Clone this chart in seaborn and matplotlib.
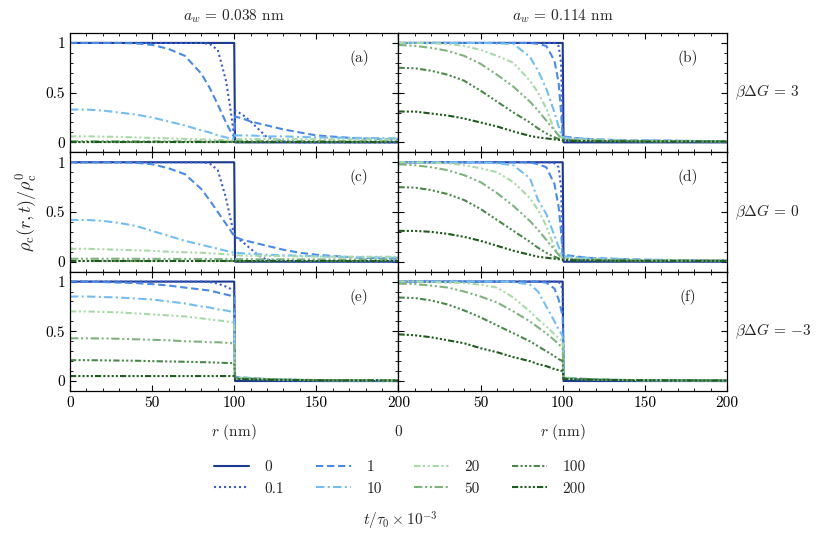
"""
Radial concentration profiles rho_c(r,t)/rho_c^0 for two wall widths a_w
and three barrier heights beta*DeltaG, at several reduced times.
"""

import numpy as np
import pandas as pd
import matplotlib
matplotlib.use('Agg')
import matplotlib.pyplot as plt
from matplotlib.lines import Line2D
from matplotlib.ticker import MultipleLocator
import seaborn as sns

# radial grid (nm)
r_nm = [0, 10, 20, 30, 40, 50, 60, 70, 80, 85, 90, 95, 97.5, 99, 100,
        100.5, 105, 110, 115, 120, 130, 140, 150, 175, 200]

# times t/tau0 x 1e-3
times = ['0', '0.1', '1', '10', '20', '50', '100', '200']

# t = 0 : step profile, same in every panel
rho_t0 = [1, 1, 1, 1, 1, 1, 1, 1, 1, 1, 1, 1, 1, 1, 1,
          0, 0, 0, 0, 0, 0, 0, 0, 0, 0]

# (a) a_w = 0.038 nm, beta dG = 3   -> t = 0.1 ... 200
panel_a = [
    [1, 1, 1, 1, 1, 1, 1, 1, 1, 0.99, 0.93, 0.62, 0.36, 0.18, 0.05,
     0.32, 0.28, 0.21, 0.13, 0.05, 0.01, 0, 0, 0, 0],
    [1, 1, 1, 1, 0.995, 0.98, 0.94, 0.87, 0.69, 0.55, 0.38, 0.2, 0.12, 0.08, 0.05,
     0.26, 0.24, 0.21, 0.19, 0.17, 0.13, 0.1, 0.07, 0.04, 0.03],
    [0.33, 0.33, 0.32, 0.3, 0.28, 0.25, 0.21, 0.17, 0.12, 0.1, 0.07, 0.05, 0.04, 0.035, 0.03,
     0.07, 0.07, 0.07, 0.065, 0.06, 0.06, 0.055, 0.05, 0.045, 0.04],
    [0.06, 0.06, 0.058, 0.055, 0.05, 0.045, 0.04, 0.035, 0.03, 0.028, 0.025, 0.022, 0.02, 0.02, 0.02,
     0.035, 0.035, 0.035, 0.034, 0.034, 0.033, 0.032, 0.031, 0.03, 0.03],
    [0.012, 0.012, 0.012, 0.012, 0.011, 0.011, 0.011, 0.01, 0.01, 0.01, 0.01, 0.01, 0.01, 0.01, 0.01,
     0.014, 0.014, 0.014, 0.014, 0.014, 0.013, 0.013, 0.013, 0.012, 0.012],
    [0.003, 0.003, 0.003, 0.003, 0.003, 0.003, 0.003, 0.003, 0.003, 0.003, 0.003, 0.003, 0.003, 0.003, 0.003,
     0.004, 0.004, 0.004, 0.004, 0.004, 0.004, 0.004, 0.004, 0.004, 0.004],
    [0, 0, 0, 0, 0, 0, 0, 0, 0, 0, 0, 0, 0, 0, 0,
     0, 0, 0, 0, 0, 0, 0, 0, 0, 0],
]

# (b) a_w = 0.114 nm, beta dG = 3
panel_b = [
    [1, 1, 1, 1, 1, 1, 1, 1, 1, 1, 1, 1, 0.97, 0.8, 0.05,
     0.03, 0.02, 0.015, 0.01, 0.01, 0.01, 0.005, 0.005, 0.005, 0.005],
    [1, 1, 1, 1, 1, 1, 1, 1, 1, 0.99, 0.97, 0.82, 0.6, 0.3, 0.06,
     0.06, 0.05, 0.04, 0.035, 0.03, 0.025, 0.02, 0.02, 0.015, 0.01],
    [1, 1, 1, 1, 1, 1, 0.995, 0.99, 0.86, 0.72, 0.54, 0.3, 0.16, 0.09, 0.06,
     0.05, 0.045, 0.04, 0.035, 0.03, 0.025, 0.02, 0.02, 0.015, 0.01],
    [1, 1, 0.995, 0.99, 0.97, 0.93, 0.87, 0.8, 0.62, 0.5, 0.34, 0.12, 0.07, 0.05, 0.04,
     0.04, 0.035, 0.03, 0.03, 0.025, 0.02, 0.02, 0.015, 0.015, 0.01],
    [0.98, 0.97, 0.95, 0.92, 0.87, 0.79, 0.68, 0.56, 0.41, 0.32, 0.22, 0.12, 0.07, 0.045, 0.035,
     0.03, 0.025, 0.02, 0.02, 0.02, 0.015, 0.015, 0.01, 0.01, 0.01],
    [0.75, 0.745, 0.72, 0.68, 0.62, 0.52, 0.41, 0.3, 0.2, 0.14, 0.09, 0.05, 0.035, 0.03, 0.025,
     0.02, 0.02, 0.015, 0.015, 0.015, 0.01, 0.01, 0.01, 0.01, 0.01],
    [0.31, 0.31, 0.29, 0.27, 0.24, 0.2, 0.16, 0.11, 0.065, 0.05, 0.04, 0.03, 0.025, 0.022, 0.02,
     0.015, 0.015, 0.012, 0.012, 0.01, 0.01, 0.01, 0.008, 0.008, 0.008],
]

# (c) a_w = 0.038 nm, beta dG = 0
panel_c = [
    [1, 1, 1, 1, 1, 1, 1, 1, 1, 0.99, 0.92, 0.64, 0.45, 0.34, 0.27,
     0.25, 0.2, 0.13, 0.06, 0.02, 0, 0, 0, 0, 0],
    [1, 1, 1, 1, 0.995, 0.98, 0.94, 0.88, 0.73, 0.62, 0.5, 0.38, 0.32, 0.28, 0.26,
     0.25, 0.22, 0.2, 0.18, 0.16, 0.12, 0.09, 0.07, 0.04, 0.03],
    [0.42, 0.42, 0.41, 0.39, 0.36, 0.31, 0.26, 0.21, 0.17, 0.15, 0.13, 0.11, 0.1, 0.095, 0.09,
     0.09, 0.085, 0.08, 0.075, 0.07, 0.065, 0.06, 0.055, 0.045, 0.04],
    [0.13, 0.13, 0.125, 0.12, 0.115, 0.11, 0.1, 0.095, 0.09, 0.085, 0.08, 0.075, 0.072, 0.07, 0.07,
     0.065, 0.062, 0.06, 0.06, 0.058, 0.056, 0.054, 0.052, 0.05, 0.05],
    [0.03, 0.03, 0.03, 0.03, 0.029, 0.029, 0.028, 0.028, 0.027, 0.027, 0.026, 0.026, 0.026, 0.025, 0.025,
     0.025, 0.025, 0.025, 0.024, 0.024, 0.024, 0.023, 0.023, 0.022, 0.022],
    [0.01, 0.01, 0.01, 0.01, 0.01, 0.01, 0.01, 0.01, 0.01, 0.01, 0.01, 0.01, 0.01, 0.01, 0.01,
     0.01, 0.01, 0.01, 0.01, 0.01, 0.01, 0.01, 0.01, 0.01, 0.01],
    [0.003, 0.003, 0.003, 0.003, 0.003, 0.003, 0.003, 0.003, 0.003, 0.003, 0.003, 0.003, 0.003, 0.003, 0.003,
     0.003, 0.003, 0.003, 0.003, 0.003, 0.003, 0.003, 0.003, 0.003, 0.003],
]

# (d) a_w = 0.114 nm, beta dG = 0
panel_d = [
    [1, 1, 1, 1, 1, 1, 1, 1, 1, 1, 1, 0.99, 0.95, 0.75, 0.06,
     0.04, 0.03, 0.02, 0.015, 0.01, 0.01, 0.008, 0.006, 0.005, 0.005],
    [1, 1, 1, 1, 1, 1, 1, 1, 1, 0.98, 0.95, 0.78, 0.55, 0.3, 0.07,
     0.07, 0.06, 0.05, 0.04, 0.035, 0.03, 0.025, 0.02, 0.015, 0.01],
    [1, 1, 1, 1, 1, 1, 0.99, 0.97, 0.84, 0.62, 0.48, 0.26, 0.15, 0.09, 0.06,
     0.055, 0.05, 0.045, 0.04, 0.035, 0.03, 0.025, 0.02, 0.015, 0.01],
    [1, 1, 0.995, 0.99, 0.97, 0.94, 0.9, 0.8, 0.64, 0.52, 0.36, 0.14, 0.08, 0.05, 0.04,
     0.04, 0.035, 0.03, 0.03, 0.025, 0.02, 0.02, 0.015, 0.015, 0.01],
    [0.98, 0.97, 0.95, 0.92, 0.87, 0.8, 0.69, 0.56, 0.41, 0.32, 0.22, 0.12, 0.07, 0.045, 0.035,
     0.03, 0.025, 0.02, 0.02, 0.02, 0.015, 0.015, 0.01, 0.01, 0.01],
    [0.75, 0.745, 0.72, 0.68, 0.62, 0.53, 0.42, 0.31, 0.2, 0.14, 0.09, 0.05, 0.035, 0.03, 0.025,
     0.02, 0.02, 0.015, 0.015, 0.015, 0.01, 0.01, 0.01, 0.01, 0.01],
    [0.31, 0.31, 0.3, 0.28, 0.25, 0.21, 0.16, 0.11, 0.07, 0.05, 0.04, 0.03, 0.025, 0.022, 0.02,
     0.015, 0.015, 0.012, 0.012, 0.01, 0.01, 0.01, 0.008, 0.008, 0.008],
]

# (e) a_w = 0.038 nm, beta dG = -3
panel_e = [
    [1, 1, 1, 1, 1, 1, 1, 1, 1, 0.995, 0.98, 0.95, 0.93, 0.91, 0.9,
     0.03, 0.02, 0.015, 0.01, 0.01, 0.005, 0, 0, 0, 0],
    [1, 1, 0.995, 0.99, 0.985, 0.975, 0.96, 0.94, 0.92, 0.91, 0.89, 0.87, 0.86, 0.855, 0.85,
     0.04, 0.035, 0.03, 0.025, 0.02, 0.015, 0.01, 0.01, 0.005, 0.005],
    [0.85, 0.85, 0.845, 0.84, 0.83, 0.82, 0.8, 0.78, 0.75, 0.74, 0.72, 0.71, 0.7, 0.695, 0.69,
     0.04, 0.035, 0.03, 0.025, 0.02, 0.015, 0.012, 0.01, 0.008, 0.006],
    [0.7, 0.7, 0.695, 0.69, 0.68, 0.67, 0.66, 0.65, 0.63, 0.62, 0.61, 0.6, 0.595, 0.59, 0.59,
     0.035, 0.03, 0.028, 0.025, 0.02, 0.015, 0.012, 0.01, 0.008, 0.006],
    [0.43, 0.43, 0.428, 0.425, 0.42, 0.415, 0.41, 0.4, 0.395, 0.39, 0.39, 0.385, 0.382, 0.38, 0.38,
     0.03, 0.028, 0.025, 0.022, 0.02, 0.015, 0.012, 0.01, 0.008, 0.006],
    [0.21, 0.21, 0.208, 0.206, 0.204, 0.2, 0.197, 0.194, 0.19, 0.188, 0.185, 0.182, 0.181, 0.18, 0.18,
     0.025, 0.022, 0.02, 0.018, 0.016, 0.013, 0.01, 0.009, 0.007, 0.006],
    [0.05, 0.05, 0.05, 0.05, 0.05, 0.05, 0.05, 0.05, 0.05, 0.05, 0.05, 0.05, 0.05, 0.05, 0.05,
     0.02, 0.018, 0.016, 0.014, 0.012, 0.01, 0.008, 0.007, 0.006, 0.005],
]

# (f) a_w = 0.114 nm, beta dG = -3
panel_f = [
    [1, 1, 1, 1, 1, 1, 1, 1, 1, 1, 1, 1, 0.995, 0.97, 0.9,
     0.03, 0.02, 0.015, 0.01, 0.01, 0.008, 0.006, 0.005, 0.005, 0.005],
    [1, 1, 1, 1, 1, 1, 1, 1, 1, 1, 0.99, 0.93, 0.82, 0.72, 0.65,
     0.035, 0.03, 0.025, 0.02, 0.015, 0.012, 0.01, 0.008, 0.006, 0.005],
    [1, 1, 1, 1, 1, 1, 1, 0.995, 0.97, 0.9, 0.75, 0.6, 0.52, 0.48, 0.45,
     0.035, 0.03, 0.025, 0.02, 0.015, 0.012, 0.01, 0.008, 0.006, 0.005],
    [1, 1, 0.995, 0.99, 0.985, 0.97, 0.94, 0.84, 0.7, 0.62, 0.55, 0.47, 0.43, 0.41, 0.4,
     0.035, 0.03, 0.025, 0.02, 0.015, 0.012, 0.01, 0.008, 0.006, 0.005],
    [0.98, 0.975, 0.96, 0.94, 0.9, 0.85, 0.79, 0.7, 0.6, 0.54, 0.48, 0.41, 0.37, 0.35, 0.33,
     0.03, 0.025, 0.02, 0.018, 0.015, 0.012, 0.01, 0.008, 0.006, 0.005],
    [0.84, 0.835, 0.81, 0.77, 0.71, 0.64, 0.56, 0.48, 0.4, 0.35, 0.3, 0.25, 0.22, 0.21, 0.2,
     0.025, 0.022, 0.02, 0.018, 0.015, 0.012, 0.01, 0.008, 0.006, 0.005],
    [0.47, 0.46, 0.44, 0.41, 0.38, 0.33, 0.29, 0.24, 0.2, 0.17, 0.15, 0.12, 0.11, 0.105, 0.1,
     0.02, 0.018, 0.016, 0.014, 0.012, 0.01, 0.008, 0.007, 0.006, 0.005],
]

panel_tags = ['(a)', '(b)', '(c)', '(d)', '(e)', '(f)']
col_titles = [r'$a_w$ = 0.038 nm', r'$a_w$ = 0.114 nm']
row_labels = [r'$\beta\Delta G$ = 3', r'$\beta\Delta G$ = 0',
              r'$\beta\Delta G$ = $-3$']
xtick_vals = [0, 50, 100, 150, 200]
ytick_vals = [0, 0.5, 1]
ytick_text = ['0', '0.5', '1']

line_colors = ['#1b3a8f', '#3a5ccc', '#4b8ae0', '#74bdf0',
               '#a9d9a9', '#7fb27f', '#4b874b', '#1f5a1f']
line_dashes = ['', (1, 1.4), (3.5, 1.8), (4, 1.6, 1, 1.6),
               (3, 1.3, 1, 1.3, 1, 1.3),
               (4, 1.3, 1, 1.3, 1, 1.3),
               (3, 1.1, 1, 1.1, 1, 1.1, 1, 1.1),
               (3, 1, 1, 1, 1, 1, 1, 1, 1, 1)]

FS = 11

sns.set_style('ticks')
plt.rcParams.update({
    'font.family': 'serif',
    'font.serif': ['cmr10'],
    'mathtext.fontset': 'cm',
    'axes.formatter.use_mathtext': True,
    'axes.unicode_minus': False,
    'font.size': FS,
    'xtick.direction': 'in',
    'ytick.direction': 'in',
    'xtick.top': True,
    'ytick.right': True,
    'xtick.minor.visible': True,
    'ytick.minor.visible': True,
    'xtick.major.size': 4,
    'ytick.major.size': 4,
    'xtick.minor.size': 2,
    'ytick.minor.size': 2,
    'axes.edgecolor': 'black',
    'axes.linewidth': 0.9,
})


def panel_frame(series):
    """Long-form table of one panel."""
    rows = []
    all_series = [rho_t0] + series
    for t, vals in zip(times, all_series):
        for r, v in zip(r_nm, vals):
            rows.append({'r': r, 'rho': v, 't': t})
    return pd.DataFrame(rows)


panels = [panel_a, panel_b, panel_c, panel_d, panel_e, panel_f]
palette = dict(zip(times, line_colors))
dashes = dict(zip(times, line_dashes))

fig, axes = plt.subplots(3, 2, figsize=(8.31, 5.39), dpi=100)
fig.subplots_adjust(left=0.0842, right=0.8748, top=0.9388, bottom=0.2746,
                    hspace=0, wspace=0)

for k, ax in enumerate(axes.flat):
    i, j = divmod(k, 2)
    df = panel_frame(panels[k])
    sns.lineplot(data=df, x='r', y='rho', hue='t', style='t',
                 hue_order=times, style_order=times,
                 palette=palette, dashes=dashes, linewidth=1.5,
                 errorbar=None, legend=False, ax=ax)
    ax.set_xlim(0, 200)
    ax.set_ylim(-0.1, 1.1)
    ax.set_xticks(xtick_vals)
    ax.set_yticks(ytick_vals)
    ax.xaxis.set_minor_locator(MultipleLocator(10))
    ax.yaxis.set_minor_locator(MultipleLocator(0.1))
    ax.set_xlabel('')
    ax.set_ylabel('')
    ax.text(0.88, 0.79, panel_tags[k], transform=ax.transAxes,
            ha='center', va='center', fontsize=FS)
    ax.tick_params(which='both', colors='black', labelsize=FS)

    if j == 0:
        ax.set_yticklabels(ytick_text)
    else:
        ax.tick_params(labelleft=False)
    if i == 2:
        if j == 0:
            ax.set_xticklabels([str(v) for v in xtick_vals])
        else:
            ax.set_xticklabels([''] + [str(v) for v in xtick_vals[1:]])
        ax.set_xlabel(r'$r$ (nm)', fontsize=FS, labelpad=9)
    else:
        ax.tick_params(labelbottom=False)
    if i == 0:
        ax.set_title(col_titles[j], fontsize=FS, pad=9)
    if j == 1:
        ax.text(1.025, 0.5, row_labels[i], transform=ax.transAxes,
                ha='left', va='center', fontsize=FS)

# stray tick label of the right column, drawn lower in the original
fig.text(398 / 831, 1 - 432 / 539, '0', ha='center', va='center', fontsize=FS)

fig.text(27 / 831, 1 - 212 / 539, r'$\rho_{\rm c}(r,t)/\rho_{\rm c}^0$',
         rotation=90, ha='center', va='center', fontsize=13)

handles = [Line2D([], [], color=c, lw=1.5,
                  linestyle='-' if d == '' else (0, d))
           for c, d in zip(line_colors, line_dashes)]
fig.legend(handles, times, ncol=4, loc='center',
           bbox_to_anchor=(400 / 831, 1 - 478 / 539), frameon=False,
           handlelength=2.3, handletextpad=1.0, columnspacing=2.1,
           labelspacing=0.5, fontsize=FS)
fig.text(400 / 831, 1 - 521 / 539, r'$t/\tau_0 \times 10^{-3}$',
         ha='center', va='center', fontsize=FS)

fig.savefig('out.png', dpi=100)
